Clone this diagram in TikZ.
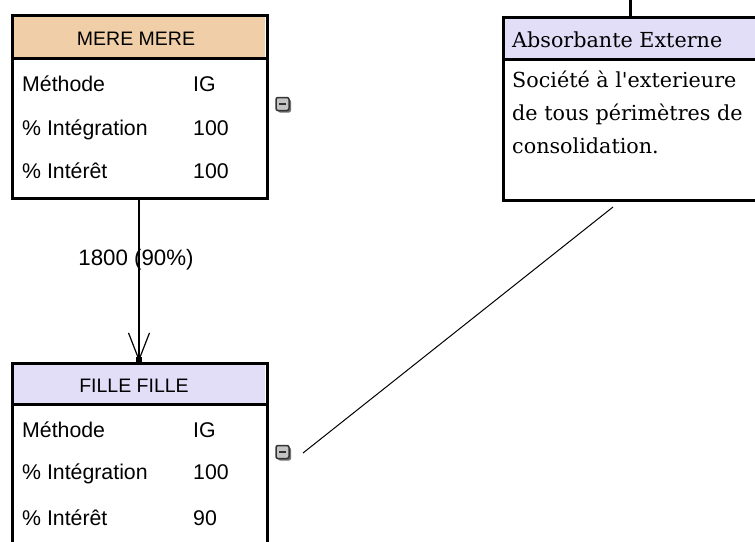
\documentclass[tikz,border=0pt]{standalone}
\usepackage{fontspec}
\setmainfont{Liberation Sans}
\newfontfamily\serifbox{DejaVu Serif}
\usetikzlibrary{arrows.meta}
\definecolor{peach}{HTML}{EFCEA8}
\definecolor{lav}{HTML}{E2DEF8}
\definecolor{icongray}{HTML}{C4C4C4}
\tikzset{
  box/.style={draw, line width=3pt, minimum width=255pt, anchor=north west, inner sep=0pt, outer sep=0pt},
  row/.style={anchor=base west, inner sep=0pt, font=\fontsize{21.3}{24}\selectfont},
  ttl/.style={anchor=base, inner sep=0pt, font=\fontsize{19.5}{24}\selectfont},
  sertxt/.style={anchor=base west, inner sep=0pt, font=\serifbox\fontsize{20.7}{24}\selectfont},
  sep/.style={line width=3pt},
  conn/.style={line width=1.3pt},
  icon/.style={draw=black!80, fill=icongray, line width=1.5pt, rounded corners=2pt, minimum width=13pt, minimum height=13pt, inner sep=0pt},
  iconshadow/.style={fill=black!55, rounded corners=2pt, minimum width=13pt, minimum height=13pt, inner sep=0pt}
}
\begin{document}
\begin{tikzpicture}[x=1pt,y=-1pt]
\useasboundingbox (0,0) rectangle (755,541);
\clip (0,0) rectangle (755,541);
\fill[white] (0,0) rectangle (755,541);
% MERE MERE box
\fill[peach] (14,17) rectangle (265,57);
\node[box, minimum height=183pt] (mere) at (12,15) {};
\draw[sep] (12,58.5) -- (267,58.5);
\node[ttl] (mereT) at (136,45) {MERE MERE};
\node[row] (m1) at (22,91.5) {Méthode};
\node[row] (m1v) at (193,91.5) {IG};
\node[row] (m2) at (22,135.5) {\% Intégration};
\node[row] (m2v) at (193,135.5) {100};
\node[row] (m3) at (22,178.5) {\% Intérêt};
\node[row] (m3v) at (193,178.5) {100};
% FILLE FILLE box
\fill[lav] (14,365) rectangle (265,403);
\node[box, minimum height=200pt] (fille) at (12,363) {};
\draw[sep] (12,404.5) -- (267,404.5);
\node[ttl] (filleT) at (134,392) {FILLE FILLE};
\node[row] (f1) at (22,437.5) {Méthode};
\node[row] (f1v) at (193,437.5) {IG};
\node[row] (f2) at (22,479.5) {\% Intégration};
\node[row] (f2v) at (193,479.5) {100};
\node[row] (f3) at (22,525.5) {\% Intérêt};
\node[row] (f3v) at (193,525.5) {90};
% Absorbante box
\fill[lav] (505,19) rectangle (770,58);
\node[box, minimum width=280pt, minimum height=183pt] (abs) at (503,17) {};
\draw[sep] (503,59.5) -- (785,59.5);
\node[sertxt] (absT) at (512,47) {Absorbante Externe};
\node[sertxt] (a1) at (512,87) {Société à l'exterieure};
\node[sertxt] (a2) at (512,120) {de tous périmètres de};
\node[sertxt] (a3) at (512,153) {consolidation.};
\coordinate (absTop) at (630,0);
\draw[line width=3pt] (absTop) -- (630,17);
% icons
\node[iconshadow] (iconMs) at (284.5,106) {};
\node[icon] (iconM) at (282.5,104) {};
\draw[line width=2pt, black!80] ([xshift=-3.5pt]iconM.center) -- ([xshift=3.5pt]iconM.center);
\node[iconshadow] (iconFs) at (284.5,454) {};
\node[icon] (iconF) at (282.5,452) {};
\draw[line width=2pt, black!80] ([xshift=-3.5pt]iconF.center) -- ([xshift=3.5pt]iconF.center);
% connectors
\draw[conn, -{Straight Barb[length=27pt, width=21pt, line width=1.2pt]}] (139,199.5) -- node[pos=0.37, xshift=-3pt, inner sep=1pt, font=\fontsize{22.3}{24}\selectfont] (lbl) {1800 (90\%)} (139,361.5);
\fill (136,357) rectangle (142,363);
\coordinate (absBot) at (613,207);
\coordinate (filleEnd) at (303,453);
\draw[conn, line width=1pt] (absBot) -- (filleEnd);
\end{tikzpicture}
\end{document}
